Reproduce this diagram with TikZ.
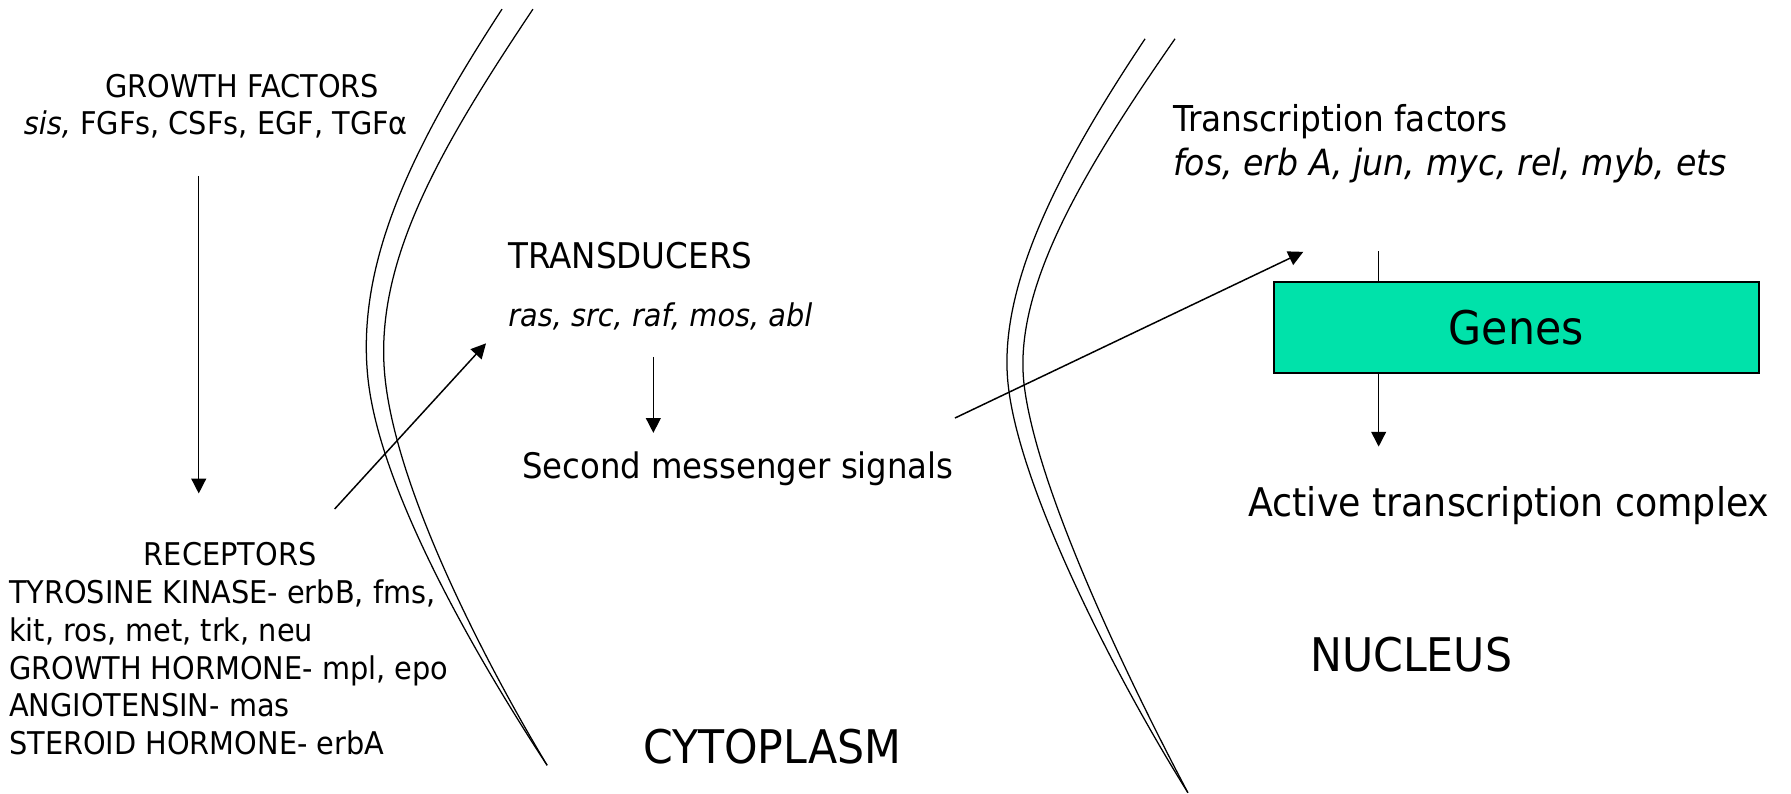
\documentclass[tikz,border=0pt]{standalone}
\usepackage{fontspec}
\setmainfont{DejaVu Sans}[FakeStretch=0.92]
\usetikzlibrary{arrows.meta}
\definecolor{genegreen}{RGB}{0,226,170}
\begin{document}
\begin{tikzpicture}[x=0.5pt,y=-0.5pt,
  lbl/.style={inner sep=0pt, outer sep=0pt},
  sz/.style={font=\fontsize{#1}{#1}\selectfont},
  flow/.style={line width=0.65pt, -{Triangle[length=6.5pt,width=6.5pt]}},
  plain/.style={line width=0.65pt},
  membrane/.style={line width=0.55pt},
  genebox/.style={draw, line width=0.8pt, fill=genegreen, inner sep=0pt,
    minimum width=212.5pt, minimum height=39.75pt, sz=20.3},
]
\useasboundingbox (0,0) rectangle (1568,695);

% ---- plasma membrane (double line) ----
\draw[membrane] (439.5,8) .. controls (360,130) and (312,230) .. (322,330)
  .. controls (332,430) and (420,580) .. (479,670);
\draw[membrane] (466.6,8) .. controls (385,130) and (327,230) .. (337,330)
  .. controls (347,430) and (425,580) .. (479,670);

% ---- nuclear envelope (double line) ----
\draw[membrane] (1002.5,34) .. controls (925,150) and (872,255) .. (883,340)
  .. controls (894,430) and (975,590) .. (1040,694);
\draw[membrane] (1028.7,34) .. controls (948,150) and (885,255) .. (897,340)
  .. controls (909,430) and (985,590) .. (1040,694);

% ---- extracellular side ----
\node[lbl,sz=13.7,anchor=base] (gf) at (212,85) {GROWTH FACTORS};
\node[lbl,sz=13.7,anchor=base] (gflist) at (189,118) {\textit{sis,} FGFs, CSFs, EGF, TGFα};

\node[lbl,sz=13.7,anchor=base] (rec) at (201.5,495) {RECEPTORS};
\node[lbl,sz=13.7,anchor=base west] (rec1) at (8,528.5) {TYROSINE KINASE- erbB, fms,};
\node[lbl,sz=13.7,anchor=base west] (rec2) at (8,561.5) {kit, ros, met, trk, neu};
\node[lbl,sz=13.7,anchor=base west] (rec3) at (8,594.5) {GROWTH HORMONE- mpl, epo};
\node[lbl,sz=13.7,anchor=base west] (rec4) at (8,627.5) {ANGIOTENSIN- mas};
\node[lbl,sz=13.7,anchor=base west] (rec5) at (8,660.5) {STEROID HORMONE- erbA};

% ---- cytoplasm ----
\node[lbl,sz=15.5,anchor=base west] (trans) at (445,235) {TRANSDUCERS};
\node[lbl,sz=13.7,anchor=base west] (translist) at (445,286) {\itshape ras, src, raf, mos, abl};
\node[lbl,sz=15.4,anchor=base west] (second) at (457,419) {Second messenger signals};
\node[lbl,sz=20.3,anchor=base west] (cyto) at (563,668) {CYTOPLASM};

% ---- nucleus ----
\node[lbl,sz=15.6,anchor=base west] (tf) at (1027,115.5) {Transcription factors};
\node[lbl,sz=15.8,anchor=base west] (tflist) at (1027,154) {\itshape fos, erb A, jun, myc, rel, myb, ets};
\node[genebox] (genes) at (1327.5,286.75) {Genes};
\node[lbl,sz=17.3,anchor=base west] (active) at (1093,452.5) {Active transcription complex};
\node[lbl,sz=20.3,anchor=base west] (nuc) at (1147,588) {NUCLEUS};

% ---- connector end points ----
\coordinate (gfout) at (174,154);
\coordinate (recin) at (174,432);
\coordinate (recout) at (293,445.6);
\coordinate (transin) at (425.5,300.6);
\coordinate (transout) at (572,312.5);
\coordinate (secondin) at (572,379);
\coordinate (secondout) at (836,366);
\coordinate (tfin) at (1141,220.5);
\coordinate (genetop) at (1207,220);
\coordinate (activein) at (1207,391);

% ---- signalling arrows ----
\draw[flow] (gfout) -- (recin);
\draw[flow] (recout) -- (transin);
\draw[flow] (transout) -- (secondin);
\draw[flow] (secondout) -- (tfin);
\draw[plain] (genetop) -- (genetop |- genes.north);
\draw[flow] (genetop |- genes.south) -- (activein);
\end{tikzpicture}
\end{document}
